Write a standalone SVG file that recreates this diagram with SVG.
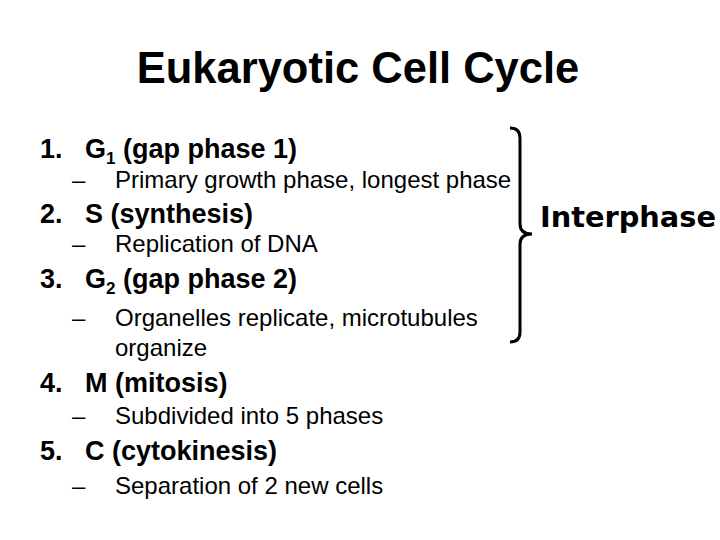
<svg xmlns="http://www.w3.org/2000/svg" width="720" height="540" viewBox="0 0 720 540">
<style>
.t{font-family:"Liberation Sans",Arial,sans-serif;fill:#000}
.h{font-size:27px;font-weight:bold}
.s{font-size:24px}
</style>
<rect width="720" height="540" fill="#fff"/>
<text class="t" x="358" y="83" text-anchor="middle" font-size="43.5" font-weight="bold">Eukaryotic Cell Cycle</text>
<text class="t h" x="40" y="158">1.</text><text class="t h" x="85" y="158">G<tspan font-size="17" dy="6">1</tspan><tspan dy="-6"> (gap phase 1)</tspan></text>
<text class="t s" x="72" y="188">–</text><text class="t s" x="115" y="188">Primary growth phase, longest phase</text>
<text class="t h" x="40" y="223">2.</text><text class="t h" x="85" y="223">S (synthesis)</text>
<text class="t s" x="72" y="252">–</text><text class="t s" x="115" y="252">Replication of DNA</text>
<text class="t h" x="40" y="288">3.</text><text class="t h" x="85" y="288">G<tspan font-size="17" dy="6">2</tspan><tspan dy="-6"> (gap phase 2)</tspan></text>
<text class="t s" x="72" y="326">–</text><text class="t s" x="115" y="326">Organelles replicate, microtubules</text>
<text class="t s" x="115" y="356">organize</text>
<text class="t h" x="40" y="392">4.</text><text class="t h" x="85" y="392">M (mitosis)</text>
<text class="t s" x="72" y="424">–</text><text class="t s" x="115" y="424">Subdivided into 5 phases</text>
<text class="t h" x="40" y="460">5.</text><text class="t h" x="85" y="460">C (cytokinesis)</text>
<text class="t s" x="72" y="494">–</text><text class="t s" x="115" y="494">Separation of 2 new cells</text>
<path d="M510 128 Q520 128 520 138 L520 224 Q520 234 532 234 Q520 234 520 244 L520 332 Q520 342 510 342" fill="none" stroke="#000" stroke-width="3"/>
<text x="540" y="227" font-family="DejaVu Sans,sans-serif" font-size="27.5" font-weight="bold" fill="#000" textLength="176" lengthAdjust="spacingAndGlyphs">Interphase</text>
</svg>
